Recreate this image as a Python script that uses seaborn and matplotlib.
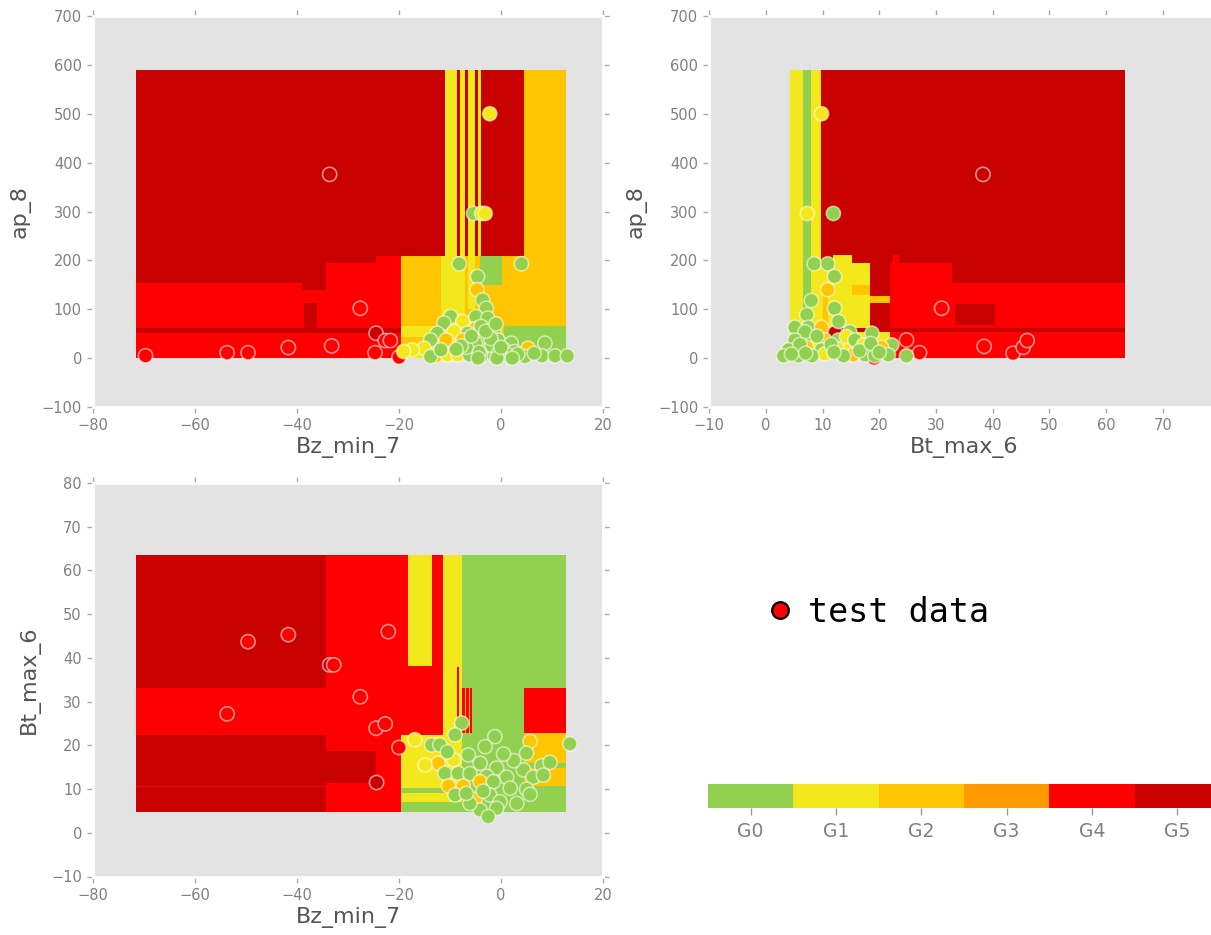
import numpy as np
import pandas as pd
import matplotlib
matplotlib.use("Agg")
import matplotlib.pyplot as plt
import seaborn as sns
from matplotlib.colors import ListedColormap, BoundaryNorm
from matplotlib.cm import ScalarMappable
from matplotlib.lines import Line2D

# ---------------- data ----------------
grades = ["G0", "G1", "G2", "G3", "G4", "G5"]
grade_colors = ["#92D050", "#F3E81B", "#FFC600", "#FF9900", "#FF0000", "#C80000"]

# decision regions: (x0, x1, y0, y1, grade index), later entries drawn on top
regions_bz_ap = [
    (-71.5, 12.7, 0, 590, 5),
    (-71.5, -19.6, 0, 153, 4),
    (-39.0, -34.4, 140, 153, 5),
    (-34.4, -19.6, 153, 195, 4),
    (-24.5, -19.6, 195, 209, 4),
    (-71.5, -19.6, 51, 61, 5),
    (-38.7, -36.1, 61, 112, 5),
    (-19.6, 12.7, 0, 209, 2),
    (-11.0, -8.7, 209, 590, 1),
    (-8.0, -7.1, 209, 590, 1),
    (-6.4, -5.1, 209, 590, 1),
    (-4.5, -4.0, 209, 590, 1),
    (4.5, 12.7, 209, 590, 2),
    (-11.7, -7.1, 0, 209, 1),
    (-6.4, -5.1, 100, 209, 1),
    (-4.1, 0.2, 150, 209, 0),
    (0.5, 12.7, 0, 65, 0),
    (-19.6, -11.7, 44, 65, 1),
    (-19.6, -11.7, 0, 27, 1),
]

regions_bt_ap = [
    (4.3, 63.3, 0, 590, 5),
    (4.3, 9.8, 0, 590, 1),
    (6.6, 7.9, 20, 590, 0),
    (9.8, 18.4, 61, 195, 1),
    (11.9, 15.1, 195, 210, 1),
    (9.8, 21.9, 0, 54, 1),
    (15.1, 18.4, 130, 150, 2),
    (18.4, 21.9, 113, 128, 2),
    (10.0, 11.0, 60, 150, 2),
    (21.9, 32.8, 61, 195, 4),
    (22.5, 23.4, 195, 210, 4),
    (32.8, 63.3, 61, 153, 4),
    (33.4, 40.4, 68, 111, 5),
    (21.9, 63.3, 0, 54, 4),
]

regions_bz_bt = [
    (-71.5, 12.7, 4.8, 63.5, 4),
    (-71.5, -34.4, 33.1, 63.5, 5),
    (-71.5, -34.4, 4.8, 22.4, 5),
    (-71.5, -34.4, 10.4, 10.8, 4),
    (-34.4, -24.5, 11.3, 18.6, 5),
    (-18.3, -13.6, 38.1, 63.5, 1),
    (-11.3, -7.6, 22.4, 63.5, 1),
    (-8.7, -8.3, 22.7, 38.0, 4),
    (-19.6, -7.6, 4.8, 22.4, 1),
    (-19.6, -11.0, 9.0, 10.2, 0),
    (-19.6, -7.6, 4.8, 7.0, 0),
    (-7.6, 12.7, 4.8, 63.5, 0),
    (-7.6, -5.6, 22.8, 33.1, 4),
    (-7.0, -6.8, 22.8, 33.1, 2),
    (-6.3, -6.1, 22.8, 33.1, 2),
    (4.5, 12.7, 22.8, 33.1, 4),
    (4.5, 12.7, 10.6, 22.8, 2),
    (4.5, 12.7, 14.8, 15.9, 0),
]

# test points, panel 1: Bz_min_7 vs ap_8
p1_bz = [-69.7, -53.7, -49.6, -41.7, -33.2, -33.6, -27.6, -24.5, -24.7, -22.7, -21.7, -20.0,
         -2.2, -5.4, -3.8, -3.1,
         -8.2, 4.0, -4.6, -4.7, -3.6, -2.9, -9.85, -7.5, -4.9, -11.2, -2.6, -4.9, -12.5, -9.2,
         -6.55, -3.9, -1.3, -10.8, -7.5, -13.8, -3.25, -0.6, 2.0, 8.6, -15.1, -17.4, -5.6, 5.3,
         -2.6, 0.7, 2.7, -12.8, -10.5, -8.5, -6.2, -3.9, -1.3, 1.4, 4.7, 8.0, 10.6, 13.0, -13.8,
         -11.8, -19.1, -5.0, -1.8, -4.3, -0.5, 3.3, -6.8, 6.5, -4.5, -0.8, 2.2,
         -7.8, -2.0, -5.8, -3.0, 0.0, -8.8, -1.0]
p1_ap = [4.8, 11, 11, 21.6, 25, 376, 102, 51, 11, 36, 36, 2,
         500, 296, 296, 296,
         193, 193, 167, 140, 119, 102, 85, 75, 85, 72, 82, 61, 51, 54.5,
         51, 65, 51, 37, 37, 37, 37, 37, 30.6, 30.6, 20.3, 17, 20.3, 20.3,
         17, 17, 13.5, 4.6, 6.6, 6.6, 6.6, 4.6, 4.6, 6.6, 3.2, 4.6, 4.6, 4.6, 3.2,
         17, 13.5, 30, 26, 12, 10, 8, 22, 10, 0, 0, 0,
         25, 40, 45, 55, 22, 18, 70]
p1_grade = [4, 4, 4, 4, 4, 5, 4, 5, 4, 4, 4, 4,
            1, 0, 1, 1,
            0, 0, 0, 2, 0, 0, 0, 1, 0, 0, 0, 2, 0, 1,
            0, 0, 0, 2, 2, 0, 0, 0, 0, 0, 1, 1, 2, 2,
            0, 0, 0, 2, 1, 1, 0, 0, 0, 0, 0, 0, 0, 0, 0,
            0, 1, 0, 0, 0, 0, 0, 0, 0, 0, 0, 0,
            0, 0, 0, 0, 0, 0, 0]

# panel 2: Bt_max_6 vs ap_8
p2_bt = [38.3, 31.0, 38.5, 43.6, 45.4, 46.1, 24.8, 27.1, 19.1, 12.2, 9.8, 7.3, 11.9,
         8.5, 10.9, 12.1, 10.9, 8.0, 12.1, 7.2, 12.8, 5.1, 7.5, 9.8, 6.9, 14.8, 18.7, 5.1,
         10.4, 12.8, 14.2, 15.7, 17.2, 22.2, 20.4, 7.2, 4.0, 9.8, 12.5, 10.4, 15.4, 17.5,
         19.2, 21.6, 24.8, 3.1, 5.7, 8.1, 13.7,
         6.0, 11.5, 16.5, 7.0, 4.5, 12.0, 18.5, 20.0, 9.0]
p2_ap = [376, 102, 24, 10, 22, 36, 37, 11, 0, 52, 500, 296, 296,
         193, 193, 167, 140, 118, 102, 89, 75, 63, 63, 63, 54, 54, 51, 37,
         37, 37, 44, 37, 27, 27, 22, 22, 17, 17, 20, 8.7, 6.6, 6.6,
         4.6, 6.6, 4.6, 4.6, 4.6, 4.6, 4.6,
         28, 28, 15, 10, 8, 12, 30, 12, 45]
p2_grade = [5, 4, 4, 4, 4, 4, 4, 4, 4, 5, 1, 1, 0,
            0, 0, 0, 2, 0, 0, 0, 0, 0, 0, 2, 0, 0, 0, 0,
            2, 0, 1, 0, 1, 0, 2, 2, 0, 0, 1, 1, 2, 0,
            0, 0, 0, 0, 0, 0, 0,
            0, 0, 0, 0, 0, 0, 0, 0, 0]

# panel 3: Bz_min_7 vs Bt_max_6
p3_bz = [-49.6, -41.7, -22.1, -33.6, -32.8, -27.6, -53.7, -24.5, -22.7, -20.0, -24.4,
         -7.7, -9.0, -16.9, -13.6, -12.0, -1.2, -3.1, 5.7, 13.5, 5.0, -6.4, -9.3, -12.3,
         -4.1, -14.9, 8.0, 9.6, 4.4, -0.85, -11.0, -8.4, -6.1, -2.8, 1.1, 6.3, 8.3, -4.1,
         -10.3, -7.4, -1.5, 1.8, 5.0, -9.0, -5.1, -2.2, -0.2, 3.1, 5.7, -0.85, -4.1, -2.5,
         -6.1, -10.5, -3.5, 2.5, -6.8, 0.5]
p3_bt = [43.7, 45.3, 46.0, 38.4, 38.4, 31.1, 27.2, 23.9, 24.9, 19.5, 11.5,
         25.1, 22.4, 21.3, 20.1, 20.1, 22.0, 19.7, 20.9, 20.35, 18.2, 17.8, 16.7, 15.9,
         15.9, 15.5, 15.3, 16.1, 14.4, 14.8, 13.6, 13.6, 13.5, 12.9, 12.7, 12.7, 13.2, 11.7,
         10.7, 10.7, 11.7, 10.2, 9.95, 8.65, 7.65, 8.65, 7.1, 6.7, 8.8, 5.6, 5.2, 3.7,
         6.7, 18.5, 9.5, 16.5, 9.0, 18.0]
p3_grade = [4, 4, 4, 5, 4, 4, 4, 4, 4, 4, 5,
            0, 0, 1, 0, 0, 0, 0, 2, 0, 0, 0, 1, 2,
            0, 1, 0, 0, 0, 0, 0, 0, 0, 0, 0, 0, 0, 2,
            2, 2, 0, 0, 0, 0, 2, 0, 0, 0, 0, 0, 0, 0,
            0, 0, 0, 0, 0, 0]

legend_label = "test data"

# ---------------- style ----------------
sns.set_theme(style="white", rc={"xtick.bottom": True, "ytick.left": True})
plt.rcParams["font.family"] = ["DejaVu Sans"]

W, H = 1211, 935
fig = plt.figure(figsize=(W / 100, H / 100), dpi=100)
palette = dict(zip(grades, grade_colors))


def px_axes(x0, x1, ytop, ybot):
    return fig.add_axes([x0 / W, (H - ybot) / H, (x1 - x0) / W, (ybot - ytop) / H])


def draw_panel(ax, regions, xs, ys, gs, xlim, ylim, xticks, yticks, xlabel, ylabel):
    ax.set_facecolor("#E3E3E3")
    for x0, x1, y0, y1, g in regions:
        ax.bar(x0, y1 - y0, width=x1 - x0, bottom=y0, align="edge",
               color=grade_colors[g], linewidth=0, zorder=1)
    df = pd.DataFrame({"x": xs, "y": ys, "grade": [grades[g] for g in gs]})
    sns.scatterplot(data=df, x="x", y="y", hue="grade", palette=palette, s=105,
                    edgecolor=(1.0, 1.0, 0.97, 0.55), linewidth=1.2, legend=False,
                    ax=ax, zorder=3)
    ax.set_xlim(*xlim)
    ax.set_ylim(*ylim)
    ax.set_xticks(xticks)
    ax.set_yticks(yticks)
    ax.set_xlabel(xlabel, fontsize=16, color="#555555", labelpad=3)
    ax.set_ylabel(ylabel, fontsize=16, color="#555555", labelpad=8)
    ax.tick_params(direction="out", length=4, width=1, color="#AAAAAA",
                   bottom=True, left=True, top=True, right=True,
                   labeltop=False, labelright=False,
                   labelsize=10.5, labelcolor="#808080", pad=4)
    for sp in ax.spines.values():
        sp.set_color("white")
        sp.set_linewidth(2)


ax1 = px_axes(93, 603, 16, 407)
draw_panel(ax1, regions_bz_ap, p1_bz, p1_ap, p1_grade, (-80, 20), (-100, 700),
           np.arange(-80, 21, 20), np.arange(-100, 701, 100), "Bz_min_7", "ap_8")

ax2 = px_axes(709.3, 1219.3, 16, 407)
draw_panel(ax2, regions_bt_ap, p2_bt, p2_ap, p2_grade, (-10, 80), (-100, 700),
           np.arange(-10, 81, 10), np.arange(-100, 701, 100), "Bt_max_6", "ap_8")

ax3 = px_axes(93, 603, 483, 876.5)
draw_panel(ax3, regions_bz_bt, p3_bz, p3_bt, p3_grade, (-80, 20), (-10, 80),
           np.arange(-80, 21, 20), np.arange(-10, 81, 10), "Bz_min_7", "Bt_max_6")

# legend
handle = Line2D([], [], marker="o", linestyle="", markersize=12,
                markerfacecolor="#FF0000", markeredgecolor="black", markeredgewidth=1.6)
leg = fig.legend([handle], [legend_label], loc="center left",
                 bbox_to_anchor=(763 / W, (H - 612) / H), frameon=False, borderpad=0,
                 borderaxespad=0, handlelength=1.0, handletextpad=0.35,
                 prop={"family": "DejaVu Sans Mono", "size": 24})
for t in leg.get_texts():
    t.set_color("black")

# colour bar
cax = px_axes(708, 1220, 784, 808)
cmap = ListedColormap(grade_colors)
norm = BoundaryNorm(np.arange(-0.5, 6.5, 1), cmap.N)
cb = fig.colorbar(ScalarMappable(norm=norm, cmap=cmap), cax=cax,
                  orientation="horizontal", ticks=range(len(grades)))
cb.minorticks_off()
cb.set_ticklabels(grades)
cb.outline.set_visible(False)
cax.tick_params(which="major", bottom=True, direction="out", length=5, width=1,
                color="#999999", labelsize=13.5, labelcolor="#808080", pad=5)

fig.savefig("out.png", dpi=100, facecolor="white")
